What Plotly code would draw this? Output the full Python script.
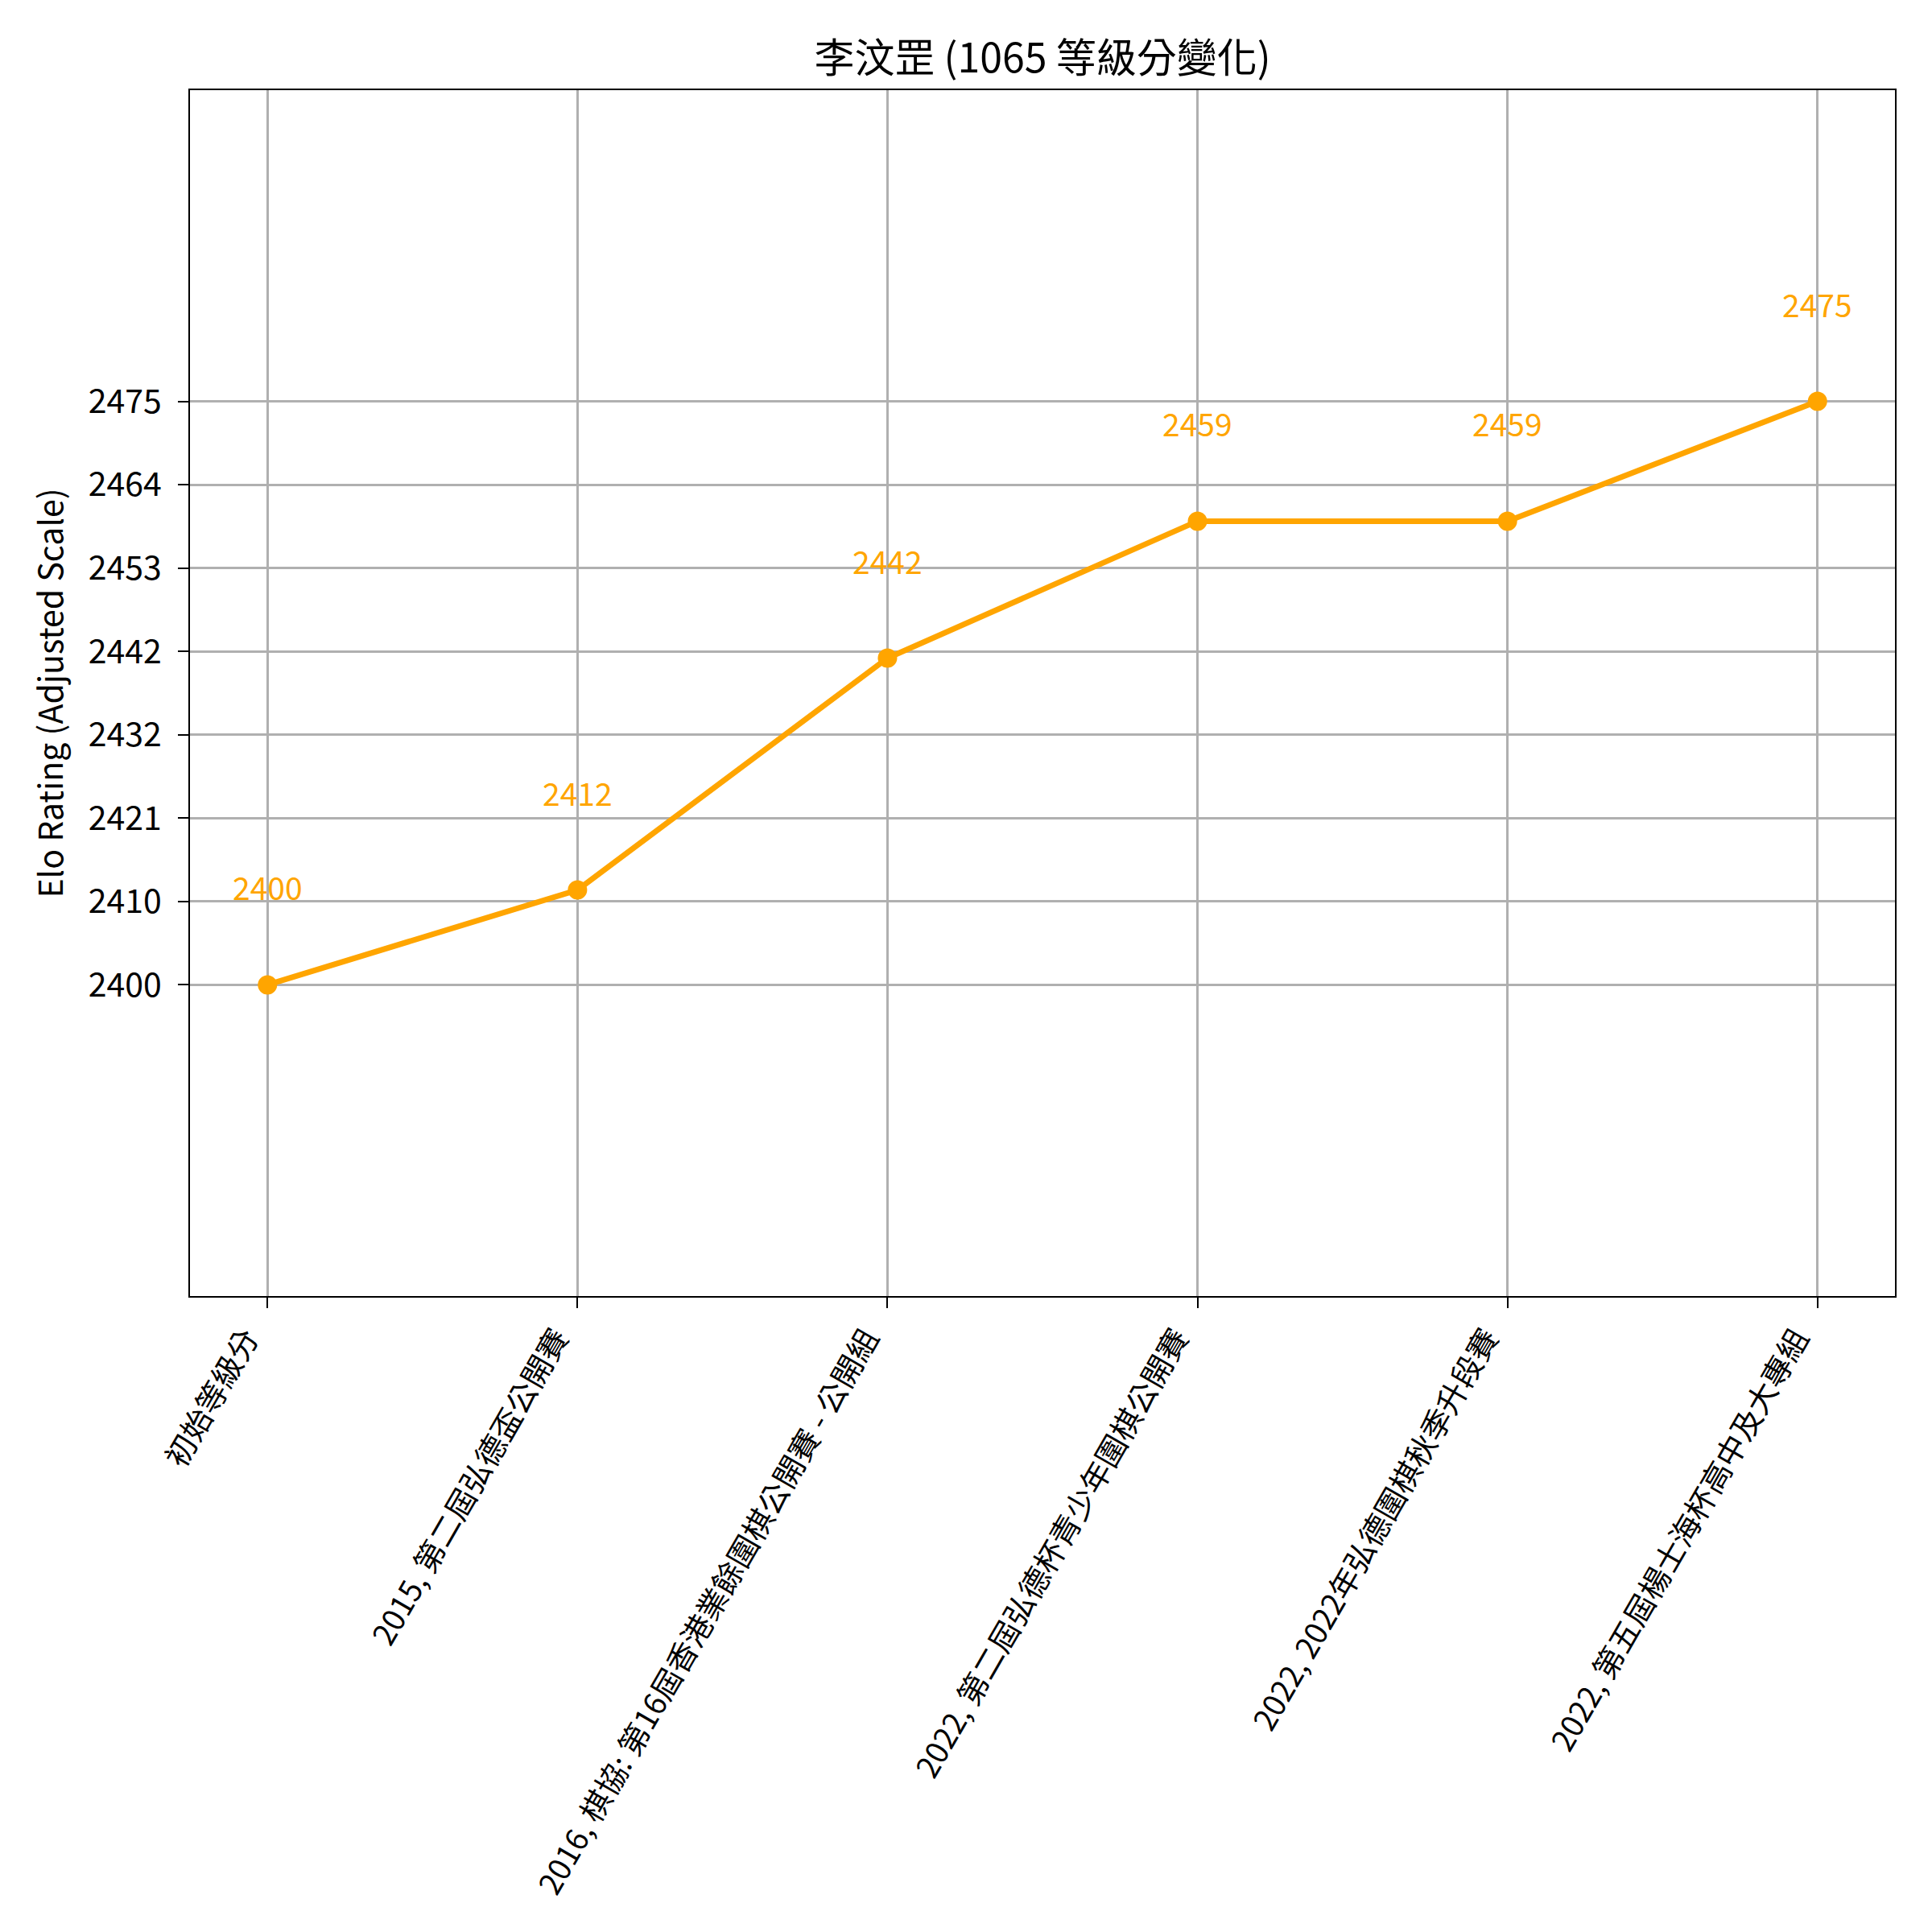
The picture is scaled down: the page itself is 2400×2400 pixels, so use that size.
import plotly.graph_objects as go

categories = [
    "初始等級分",
    "2015, 第二屆弘德盃公開賽",
    "2016, 棋協: 第16屆香港業餘圍棋公開賽 - 公開組",
    "2022, 第二屆弘德杯青少年圍棋公開賽",
    "2022, 2022年弘德圍棋秋季升段賽",
    "2022, 第五屆楊士海杯高中及大專組",
]
ratings = [2400, 2412.2, 2442.0, 2459.6, 2459.6, 2475]
rating_labels = ["2400", "2412", "2442", "2459", "2459", "2475"]
y_tick_vals = [2400, 2410.71, 2421.43, 2432.14, 2442.86, 2453.57, 2464.29, 2475]
y_tick_text = ["2400", "2410", "2421", "2432", "2442", "2453", "2464", "2475"]

FONT = "Noto Sans CJK TC"
ORANGE = "#FFA500"
x_idx = list(range(len(categories)))

fig = go.Figure()
fig.add_trace(go.Scatter(
    x=x_idx, y=ratings, mode="lines+markers",
    line=dict(color=ORANGE, width=7),
    marker=dict(color=ORANGE, size=24),
    showlegend=False, hoverinfo="skip",
))

for xi, yv, lab in zip(x_idx, ratings, rating_labels):
    fig.add_annotation(x=xi, y=yv, text=lab, showarrow=False, yshift=122,
                       xanchor="center", yanchor="middle",
                       font=dict(family=FONT, size=39, color=ORANGE))

fig.update_layout(
    width=2400, height=2400,
    paper_bgcolor="white", plot_bgcolor="white",
    margin=dict(l=228, r=54, t=104, b=798),
    font=dict(family=FONT, color="black"),
    title=dict(text="李汶罡 (1065 等級分變化)", x=0.5, xanchor="center",
               y=1 - 64 / 2400, yanchor="middle", yref="container",
               xref="paper",
               font=dict(family=FONT, size=50, color="black")),
)
fig.update_xaxes(
    range=[-0.25, 5.25], tickmode="array", tickvals=x_idx, ticktext=categories,
    tickangle=-60, tickfont=dict(family=FONT, size=38, color="black"),
    ticklabelshift=-26,
    showgrid=True, gridcolor="#b0b0b0", gridwidth=2.5,
    showline=True, linecolor="black", linewidth=2, mirror=True,
    ticks="outside", ticklen=13, tickwidth=2, tickcolor="black", zeroline=False,
)
fig.update_yaxes(
    range=[2360, 2515], tickmode="array", tickvals=y_tick_vals, ticktext=y_tick_text,
    tickfont=dict(family=FONT, size=41, color="black"),
    ticklabelstandoff=12,
    title=dict(text="Elo Rating (Adjusted Scale)", font=dict(family=FONT, size=41, color="black"), standoff=18),
    showgrid=True, gridcolor="#b0b0b0", gridwidth=2.5,
    showline=True, linecolor="black", linewidth=2, mirror=True,
    ticks="outside", ticklen=13, tickwidth=2, tickcolor="black", zeroline=False,
)

fig.write_html("out.html")
